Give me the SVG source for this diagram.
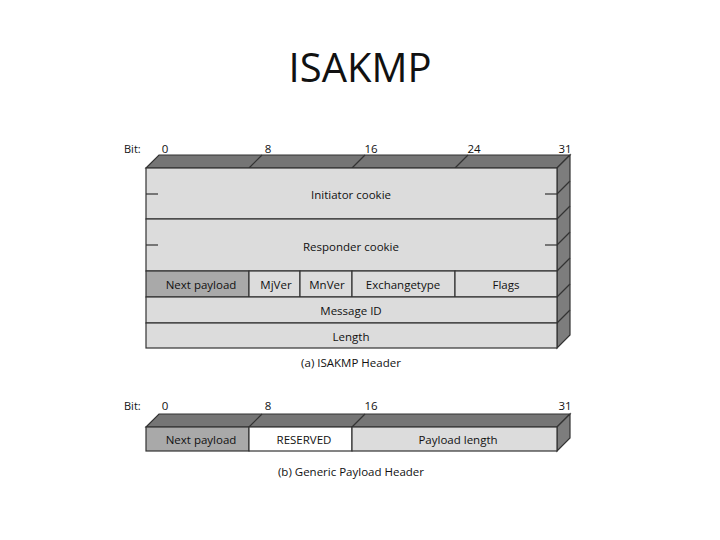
<svg xmlns="http://www.w3.org/2000/svg" width="720" height="540" viewBox="0 0 720 540">
<style>
.t{font-family:"Open Sans","DejaVu Sans",sans-serif;font-size:11.5px;fill:#111;text-anchor:middle}
.b{font-family:"Open Sans","DejaVu Sans",sans-serif;font-size:11px;fill:#111}
.cell{fill:#dcdcdc;stroke:#333;stroke-width:1.2}
.dark{fill:#a9a9a9;stroke:#333;stroke-width:1.2}
.white{fill:#fff;stroke:#333;stroke-width:1.2}
.topf{fill:#757575;stroke:#333;stroke-width:1.2}
.side{fill:#7d7d7d;stroke:#333;stroke-width:1.2}
.ln{stroke:#333;stroke-width:1.2;fill:none}
</style>
<rect width="720" height="540" fill="#fff"/>
<text x="360" y="82" font-family="Open Sans, DejaVu Sans, sans-serif" font-size="40" text-anchor="middle" fill="#111">ISAKMP</text>

<g id="headerA">
<g id="bitsA">
<text class="b" x="124" y="153">Bit:</text>
<text class="t" x="165" y="153">0</text>
<text class="t" x="268" y="153">8</text>
<text class="t" x="371" y="153">16</text>
<text class="t" x="474" y="153">24</text>
<text class="t" x="565" y="153">31</text>
</g>
<polygon class="topf" points="146,168 159,155 570,155 557,168"/>
<polygon class="side" points="557,168 570,155 570,335 557,348"/>
<g class="ln">
<line x1="249" y1="168" x2="262" y2="155"/>
<line x1="352" y1="168" x2="365" y2="155"/>
<line x1="455" y1="168" x2="468" y2="155"/>
<line x1="557" y1="194" x2="570" y2="181"/>
<line x1="557" y1="219" x2="570" y2="206"/>
<line x1="557" y1="245" x2="570" y2="232"/>
<line x1="557" y1="271" x2="570" y2="258"/>
<line x1="557" y1="297" x2="570" y2="284"/>
<line x1="557" y1="323" x2="570" y2="310"/>
</g>
<g id="initiator">
<rect class="cell" x="146" y="168" width="411" height="51"/>
<line class="ln" x1="146" y1="194" x2="158" y2="194"/>
<line class="ln" x1="545" y1="194" x2="557" y2="194"/>
<text class="t" x="351" y="199">Initiator cookie</text>
</g>
<g id="responder">
<rect class="cell" x="146" y="219" width="411" height="52"/>
<line class="ln" x1="146" y1="245" x2="158" y2="245"/>
<line class="ln" x1="545" y1="245" x2="557" y2="245"/>
<text class="t" x="351" y="251">Responder cookie</text>
</g>
<g id="nextpayloadA">
<rect class="dark" x="146" y="271" width="103" height="26"/>
<text class="t" x="201" y="289">Next payload</text>
</g>
<g id="mjver">
<rect class="cell" x="249" y="271" width="51" height="26"/>
<text class="t" x="276" y="289">MjVer</text>
</g>
<g id="mnver">
<rect class="cell" x="300" y="271" width="52" height="26"/>
<text class="t" x="327" y="289">MnVer</text>
</g>
<g id="exchangetype">
<rect class="cell" x="352" y="271" width="103" height="26"/>
<text class="t" x="403" y="289">Exchangetype</text>
</g>
<g id="flags">
<rect class="cell" x="455" y="271" width="102" height="26"/>
<text class="t" x="506" y="289">Flags</text>
</g>
<g id="messageid">
<rect class="cell" x="146" y="297" width="411" height="26"/>
<text class="t" x="351" y="315">Message ID</text>
</g>
<g id="length">
<rect class="cell" x="146" y="323" width="411" height="25"/>
<text class="t" x="351" y="341">Length</text>
</g>
<text class="t" x="351" y="367">(a) ISAKMP Header</text>
</g>

<g id="headerB">
<g id="bitsB">
<text class="b" x="124" y="410">Bit:</text>
<text class="t" x="165" y="410">0</text>
<text class="t" x="268" y="410">8</text>
<text class="t" x="371" y="410">16</text>
<text class="t" x="565" y="410">31</text>
</g>
<polygon class="topf" points="146,427 159,414 570,414 557,427"/>
<polygon class="side" points="557,427 570,414 570,438 557,451"/>
<line class="ln" x1="249" y1="427" x2="262" y2="414"/>
<line class="ln" x1="352" y1="427" x2="365" y2="414"/>
<g id="nextpayloadB">
<rect class="dark" x="146" y="427" width="103" height="24"/>
<text class="t" x="201" y="444">Next payload</text>
</g>
<g id="reserved">
<rect class="white" x="249" y="427" width="103" height="24"/>
<text class="t" x="304" y="444">RESERVED</text>
</g>
<g id="payloadlength">
<rect class="cell" x="352" y="427" width="205" height="24"/>
<text class="t" x="458" y="444">Payload length</text>
</g>
<text class="t" x="351" y="476">(b) Generic Payload Header</text>
</g>
</svg>
